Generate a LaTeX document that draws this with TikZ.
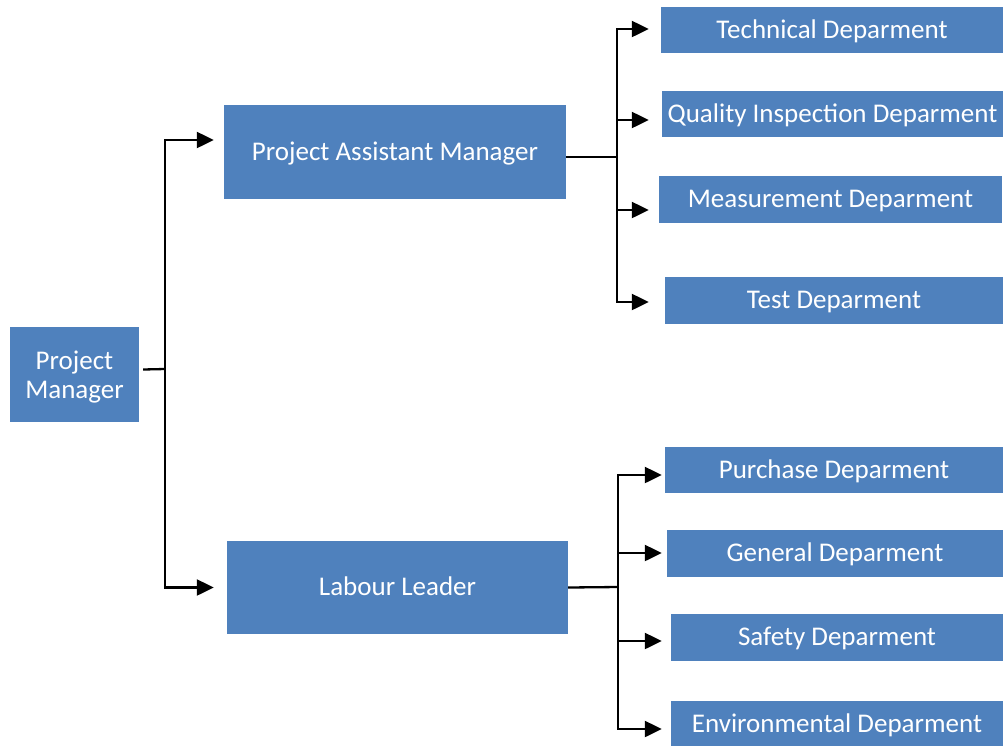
\documentclass[tikz,border=0pt]{standalone}
\usepackage{fontspec}
\setmainfont{Carlito}
\usetikzlibrary{arrows.meta}
\definecolor{boxblue}{HTML}{4F81BD}
\tikzset{
  box/.style={fill=boxblue, text=white, inner sep=0pt, align=center,
    font=\fontsize{27}{29}\selectfont},
  onebox/.style={box, text height=19pt, text depth=3pt},
  conn/.style={line width=2.3pt, black},
  arr/.style={conn, -{Triangle[length=17pt,width=16pt]}},
}
\begin{document}
\begin{tikzpicture}[x=1pt,y=-1pt]
\useasboundingbox (0,0) rectangle (1003,745);
% main boxes
\node[box, text height=54pt, text depth=5.5pt, minimum width=129pt, minimum height=95pt] (pm) at (74.5,374.5) {Project\\Manager};
\node[onebox, minimum width=342pt, minimum height=94pt] (pam) at (395,152) {Project Assistant Manager};
\node[onebox, minimum width=341pt, minimum height=93pt] (ll) at (397.5,587.5) {Labour Leader};
% departments (upper)
\node[onebox, minimum width=342pt, minimum height=46pt] (tech) at (832,30) {Technical Deparment};
\node[onebox, minimum width=341pt, minimum height=46pt] (qual) at (832.5,114) {Quality Inspection Deparment};
\node[onebox, minimum width=343pt, minimum height=47pt] (meas) at (830.5,199.5) {Measurement Deparment};
\node[onebox, minimum width=338pt, minimum height=47pt] (test) at (834,300.5) {Test Deparment};
% departments (lower)
\node[onebox, minimum width=338pt, minimum height=46pt] (purch) at (834,470) {Purchase Deparment};
\node[onebox, minimum width=336pt, minimum height=47pt] (gen) at (835,553.5) {General Deparment};
\node[onebox, minimum width=332pt, minimum height=47pt] (safe) at (837,637.5) {Safety Deparment};
\node[onebox, minimum width=332pt, minimum height=46pt] (env) at (837,724) {Environmental Deparment};
% junctions
\coordinate (jpm) at (165,369);
\coordinate (jpam) at (617,157);
\coordinate (jll) at (618,587);
% connectors from project manager
\draw[conn] ([yshift=5pt]pm.east) ++(4,0) -- (jpm);
\draw[arr, shorten >=10pt] (jpm) |- ([yshift=12pt]pam.west);
\draw[arr, shorten >=13pt] (jpm) |- (ll.west);
% connectors from project assistant manager
\draw[conn] ([yshift=-5pt]pam.east) -- (jpam);
\draw[arr, shorten >=12pt] (jpam) |- ([yshift=1pt]tech.west);
\draw[arr, shorten >=13pt] (jpam) |- ([yshift=-6pt]qual.west);
\draw[arr, shorten >=10pt] (jpam) |- ([yshift=-10.5pt]meas.west);
\draw[arr, shorten >=16pt] (jpam) |- ([yshift=-1.5pt]test.west);
% connectors from labour leader
\draw[conn] (ll.east) -- (jll);
\draw[arr, shorten >=3pt] (jll) |- ([yshift=-5pt]purch.west);
\draw[arr, shorten >=5pt] (jll) |- ([yshift=0.5pt]gen.west);
\draw[arr, shorten >=9pt] (jll) |- ([yshift=-3.5pt]safe.west);
\draw[arr, shorten >=9pt] (jll) |- ([yshift=-5pt]env.west);
\end{tikzpicture}
\end{document}
